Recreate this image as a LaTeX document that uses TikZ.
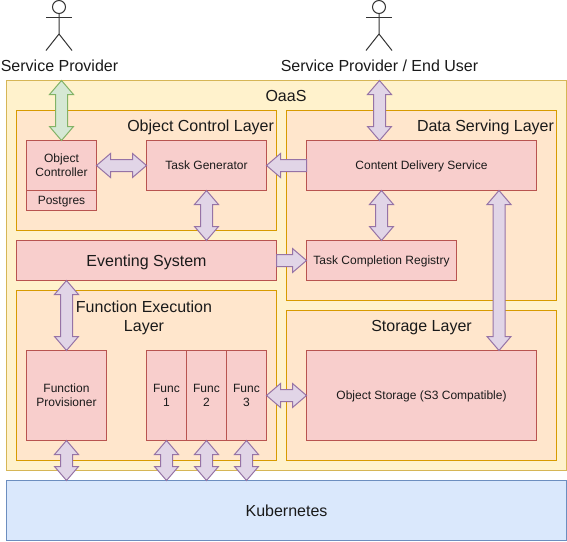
\documentclass[tikz,border=0pt]{standalone}
\usepackage{fontspec}
\setmainfont{Liberation Sans}
\usetikzlibrary{calc}

\definecolor{oaasfill}{HTML}{FFF2CC}
\definecolor{oaasline}{HTML}{D6B656}
\definecolor{layerfill}{HTML}{FFE6CC}
\definecolor{layerline}{HTML}{D79B00}
\definecolor{redfill}{HTML}{F8CECC}
\definecolor{redline}{HTML}{B85450}
\definecolor{bluefill}{HTML}{DAE8FC}
\definecolor{blueline}{HTML}{6C8EBF}
\definecolor{purplefill}{HTML}{E1D5E7}
\definecolor{purpleline}{HTML}{9673A6}
\definecolor{greenfill}{HTML}{D5E8D4}
\definecolor{greenline}{HTML}{82B366}
\definecolor{inktext}{HTML}{1A1A1A}

\tikzset{
    plainbox/.style={draw, rectangle, line width=1pt, outer sep=0pt, inner sep=0pt, text=inktext, align=center},
    oaasbox/.style={plainbox, draw=oaasline, fill=oaasfill},
    layerbox/.style={plainbox, draw=layerline, fill=layerfill},
    redbox/.style={plainbox, draw=redline, fill=redfill, font=\fontsize{12}{14}\selectfont},
    bluebox/.style={plainbox, draw=blueline, fill=bluefill, font=\fontsize{16}{19}\selectfont},
    title/.style={inner sep=0pt, outer sep=0pt, text=inktext, align=center, font=\fontsize{16}{19}\selectfont},
    purplearrow/.style={draw=purpleline, fill=purplefill, line width=1pt, line join=miter},
    greenarrow/.style={draw=greenline, fill=greenfill, line width=1pt, line join=miter},
    actorline/.style={draw=black!80, line width=1pt}
}

\newcommand{\sline}{\rule[-2.7pt]{0pt}{13.7pt}}
\newcommand{\bline}{\rule[-4pt]{0pt}{19pt}}

\newcommand{\BiArrow}[3][purplearrow]{
    \coordinate (p) at (#2);
    \coordinate (q) at (#3);
    \path[#1] (p) -- ($(p)!14pt!(q)!12pt!90:(q)$) -- ($(p)!14pt!(q)!6pt!90:(q)$)
        -- ($(q)!14pt!(p)!6pt!-90:(p)$) -- ($(q)!14pt!(p)!12pt!-90:(p)$) -- (q)
        -- ($(q)!14pt!(p)!12pt!90:(p)$) -- ($(q)!14pt!(p)!6pt!90:(p)$)
        -- ($(p)!14pt!(q)!6pt!-90:(q)$) -- ($(p)!14pt!(q)!12pt!-90:(q)$) -- cycle;
}
\newcommand{\OneArrow}[3][purplearrow]{
    \coordinate (p) at (#2);
    \coordinate (q) at (#3);
    \path[#1] ($(p)!6pt!90:(q)$) -- ($(q)!14pt!(p)!6pt!-90:(p)$) -- ($(q)!14pt!(p)!12pt!-90:(p)$) -- (q)
        -- ($(q)!14pt!(p)!12pt!90:(p)$) -- ($(q)!14pt!(p)!6pt!90:(p)$) -- ($(p)!6pt!-90:(q)$) -- cycle;
}
\newcommand{\Actor}[1]{
    \draw[actorline] (#1,7) circle (6.5);
    \draw[actorline] (#1,13.5) -- (#1,34) -- (#1-13,50.5);
    \draw[actorline] (#1,34) -- (#1+13,50.5);
    \draw[actorline] (#1-13,17) -- (#1+13,17);
}

\begin{document}
\begin{tikzpicture}[x=1pt, y=-1pt]
    \useasboundingbox (0,0) rectangle (567,541);

    \Actor{59}
    \Actor{379}
    \node[title] (providerlabel) at (59.5,66) {\bline Service Provider};
    \node[title] (userlabel) at (379.5,66) {\bline Service Provider / End User};

    \node[oaasbox, minimum width=560, minimum height=390] (oaas) at (286.5,275.5) {};
    \node[title] (oaaslabel) at (286,96) {\bline OaaS};

    \node[layerbox, minimum width=260, minimum height=120] (controllayer) at (146.5,170.5) {};
    \node[layerbox, minimum width=270, minimum height=190] (servinglayer) at (421.5,205.5) {};
    \node[layerbox, minimum width=260, minimum height=170] (execlayer) at (146.5,375.5) {};
    \node[layerbox, minimum width=270, minimum height=150] (storagelayer) at (421.5,385.5) {};

    \node[title, anchor=east] (controllabel) at (274,126) {\bline Object Control Layer};
    \node[title, anchor=east] (servinglabel) at (554,126) {\bline Data Serving Layer};
    \node[title] (execlabel) at (144,316) {\bline Function Execution\\\bline Layer};
    \node[title] (storagelabel) at (421.5,326) {\bline Storage Layer};

    \node[redbox, minimum width=70, minimum height=50] (objctrl) at (61.5,165.5) {\sline Object\\\sline Controller};
    \node[redbox, minimum width=70, minimum height=20] (postgres) at (61.5,200.5) {\sline Postgres};
    \node[redbox, minimum width=120, minimum height=50] (taskgen) at (206.5,165.5) {\sline Task Generator};
    \node[redbox, minimum width=230, minimum height=50] (cds) at (421.5,165.5) {\sline Content Delivery Service};
    \node[redbox, minimum width=260, minimum height=40, font=\fontsize{16}{19}\selectfont] (eventing) at (146.5,260.5) {\bline Eventing System};
    \node[redbox, minimum width=150, minimum height=40] (registry) at (381.5,260.5) {\sline Task Completion Registry};
    \node[redbox, minimum width=80, minimum height=90] (provisioner) at (66.5,395.5) {\sline Function\\\sline Provisioner};
    \node[redbox, minimum width=40, minimum height=90] (func1) at (166.5,395.5) {\sline Func\\\sline 1};
    \node[redbox, minimum width=40, minimum height=90] (func2) at (206.5,395.5) {\sline Func\\\sline 2};
    \node[redbox, minimum width=40, minimum height=90] (func3) at (246.5,395.5) {\sline Func\\\sline 3};
    \node[redbox, minimum width=230, minimum height=90] (storage) at (421.5,395.5) {\sline Object Storage (S3 Compatible)};
    \node[bluebox, minimum width=560, minimum height=60] (k8s) at (286.5,510.5) {\bline Kubernetes};

    \coordinate (cdsright) at ($(cds.south)+(77.5,0)$);

    \BiArrow[greenarrow]{objctrl.north |- oaas.north}{objctrl.north}
    \BiArrow{userlabel.south |- oaas.north}{userlabel.south |- cds.north}
    \BiArrow{objctrl.east}{taskgen.west}
    \OneArrow{cds.west}{taskgen.east}
    \BiArrow{taskgen.south}{taskgen.south |- eventing.north}
    \BiArrow{cds.south -| registry.north}{registry.north}
    \BiArrow{cdsright}{cdsright |- storage.north}
    \OneArrow{eventing.east}{registry.west}
    \BiArrow{eventing.south -| provisioner.north}{provisioner.north}
    \BiArrow{func3.east}{storage.west}
    \BiArrow{provisioner.south}{provisioner.south |- k8s.north}
    \BiArrow{func1.south}{func1.south |- k8s.north}
    \BiArrow{func2.south}{func2.south |- k8s.north}
    \BiArrow{func3.south}{func3.south |- k8s.north}
\end{tikzpicture}
\end{document}
